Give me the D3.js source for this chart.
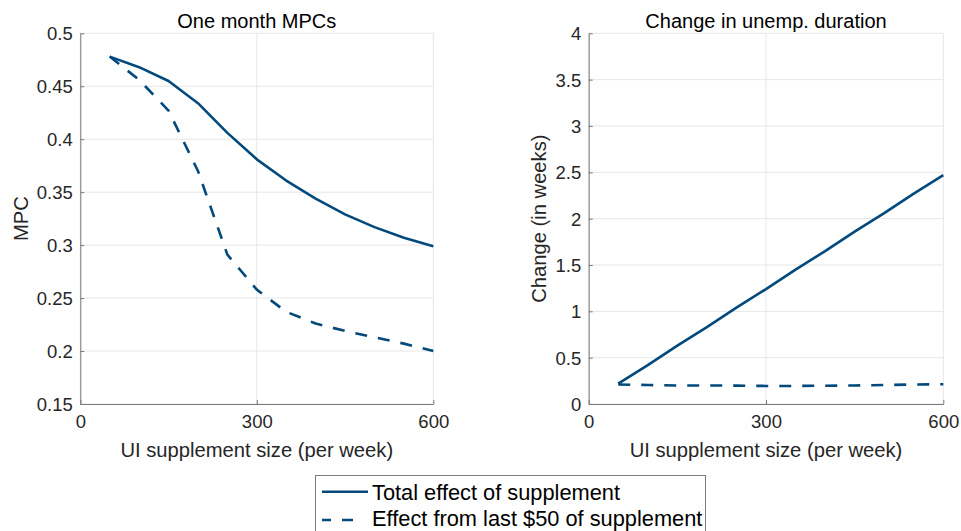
<!DOCTYPE html>
<html>
<head>
<meta charset="utf-8">
<script src="https://cdn.jsdelivr.net/npm/d3@7"></script>
<style>
  html, body { margin: 0; padding: 0; background: #fff; }
  svg { display: block; font-family: "Liberation Sans", Arial, Helvetica, sans-serif; }
</style>
</head>
<body>
<svg id="chart" width="961" height="531"></svg>
<script>
// ---- data ----
const supplement = [50, 100, 150, 200, 250, 300, 350, 400, 450, 500, 550, 600];
const mpcTotal   = [0.478, 0.468, 0.455, 0.434, 0.406, 0.381, 0.361, 0.344, 0.329, 0.317, 0.307, 0.299];
const mpcLast50  = [0.478, 0.456, 0.427, 0.370, 0.291, 0.258, 0.237, 0.226, 0.219, 0.213, 0.207, 0.200];
const durTotal   = [0.22, 0.42, 0.63, 0.83, 1.04, 1.24, 1.45, 1.65, 1.86, 2.06, 2.27, 2.47];
const durLast50  = [0.21, 0.205, 0.20, 0.20, 0.198, 0.195, 0.195, 0.197, 0.20, 0.205, 0.21, 0.213];
const xTicks     = [0, 300, 600];
const mpcTicks   = [0.15, 0.2, 0.25, 0.3, 0.35, 0.4, 0.45, 0.5];
const durTicks   = [0, 0.5, 1, 1.5, 2, 2.5, 3, 3.5, 4];
const seriesNames = ["Total effect of supplement", "Effect from last $50 of supplement"];
const titles = ["One month MPCs", "Change in unemp. duration"];
const yLabels = ["MPC", "Change (in weeks)"];
const xLabel = "UI supplement size (per week)";

// ---- style ----
const lineColor = "#03497c";
const axisColor = "#7a7a7a";
const gridColor = "#e6e6e6";
const textColor = "#262626";
const dashArr = "12,11";

const svg = d3.select("#chart");

function panel(cfg) {
  const x = d3.scaleLinear().domain([0, 600]).range([cfg.x0, cfg.x1]);
  const y = d3.scaleLinear().domain(cfg.yDomain).range([404, 33.3]);
  const g = svg.append("g");

  // grid
  g.selectAll(".vg").data(xTicks).join("line")
    .attr("x1", d => x(d)).attr("x2", d => x(d))
    .attr("y1", y.range()[0]).attr("y2", y.range()[1])
    .attr("stroke", gridColor).attr("stroke-width", 1);
  g.selectAll(".hg").data(cfg.yTicks).join("line")
    .attr("x1", x.range()[0]).attr("x2", x.range()[1])
    .attr("y1", d => y(d)).attr("y2", d => y(d))
    .attr("stroke", gridColor).attr("stroke-width", 1);

  // axes
  const xAxis = d3.axisBottom(x).tickValues(xTicks).tickFormat(d3.format("d"))
    .tickSizeInner(-4).tickSizeOuter(0).tickPadding(11);
  const yAxis = d3.axisLeft(y).tickValues(cfg.yTicks).tickFormat(d => String(d))
    .tickSizeInner(-4).tickSizeOuter(0).tickPadding(7.5);

  const gx = g.append("g").attr("transform", `translate(0,${y.range()[0]})`).call(xAxis);
  const gy = g.append("g").attr("transform", `translate(${x.range()[0]},0)`).call(yAxis);
  [gx, gy].forEach(a => {
    a.select(".domain").attr("stroke", axisColor).attr("stroke-width", 1);
    a.selectAll(".tick line").attr("stroke", axisColor);
    a.selectAll(".tick text").attr("fill", textColor)
      .style("font-size", "18.5px").style("font-family", "Liberation Sans, Arial, sans-serif");
  });
  gy.selectAll(".tick text").attr("dy", "0.35em");

  // lines
  const line = d3.line().x((d, i) => x(supplement[i])).y(d => y(d));
  g.append("path").datum(cfg.solid).attr("d", line)
    .attr("fill", "none").attr("stroke", lineColor).attr("stroke-width", 2.6)
    .attr("stroke-linejoin", "round");
  g.append("path").datum(cfg.dashed).attr("d", line)
    .attr("fill", "none").attr("stroke", lineColor).attr("stroke-width", 2.6)
    .attr("stroke-dasharray", dashArr).attr("stroke-linejoin", "round");

  // title
  const cx = (x.range()[0] + x.range()[1]) / 2;
  g.append("text").attr("x", cx).attr("y", 27.5).attr("text-anchor", "middle")
    .attr("fill", "#000").style("font-size", "20px").text(cfg.title);
  // x label
  g.append("text").attr("x", cx).attr("y", 457).attr("text-anchor", "middle")
    .attr("fill", textColor).style("font-size", "20.2px").text(xLabel);
  // y label
  const cy = (y.range()[0] + y.range()[1]) / 2;
  g.append("text").attr("transform", `translate(${cfg.yLabelX},${cy}) rotate(-90)`)
    .attr("text-anchor", "middle").attr("fill", textColor)
    .style("font-size", "20.2px").text(cfg.yLabel);
}

panel({ x0: 80.3, x1: 433.3, yDomain: [0.15, 0.5], yTicks: mpcTicks,
        solid: mpcTotal, dashed: mpcLast50, title: titles[0], yLabel: yLabels[0], yLabelX: 27.5 });
panel({ x0: 588.7, x1: 943.3, yDomain: [0, 4], yTicks: durTicks,
        solid: durTotal, dashed: durLast50, title: titles[1], yLabel: yLabels[1], yLabelX: 546 });

// legend
const lg = svg.append("g");
lg.append("rect").attr("x", 315.5).attr("y", 475.5).attr("width", 390).attr("height", 80)
  .attr("fill", "#fff").attr("stroke", axisColor).attr("stroke-width", 1);
const rows = [491.7, 520];
const baselines = [499.5, 526.3];
seriesNames.forEach((name, i) => {
  lg.append("line").attr("x1", 322).attr("x2", 368).attr("y1", rows[i]).attr("y2", rows[i])
    .attr("stroke", lineColor).attr("stroke-width", 2.6)
    .attr("stroke-dasharray", i === 1 ? "9,11,11,100" : null);
  lg.append("text").attr("x", 372).attr("y", baselines[i]).attr("fill", "#000")
    .style("font-size", "21.8px").text(name);
});
</script>
</body>
</html>
